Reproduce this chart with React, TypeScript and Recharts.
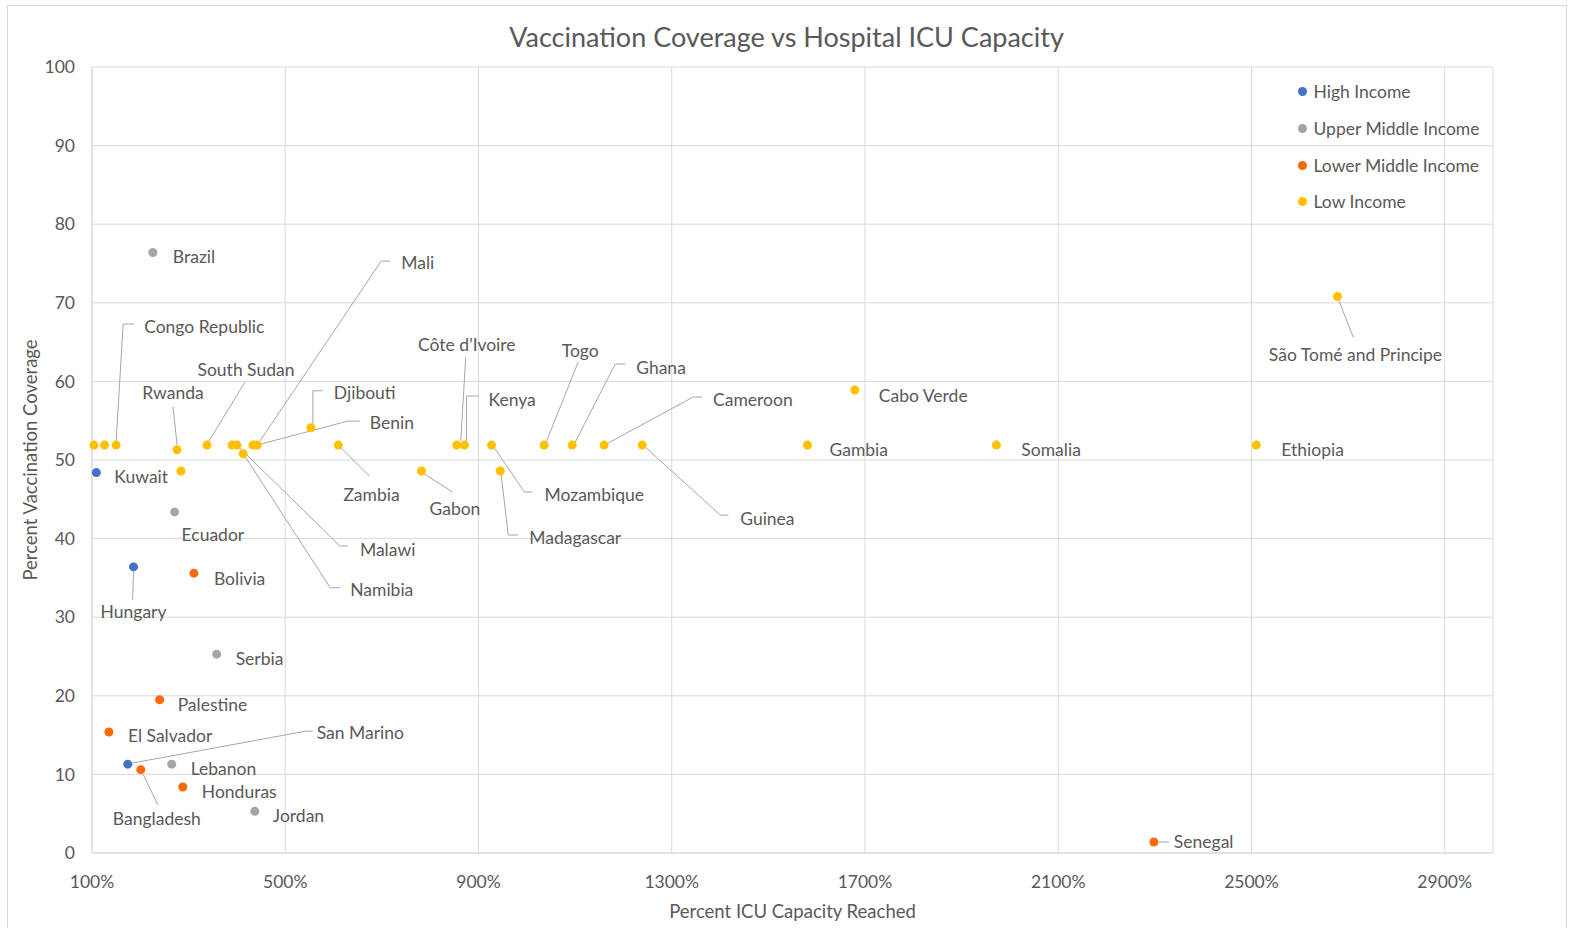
import React from "react";
import {
  ScatterChart,
  Scatter,
  XAxis,
  YAxis,
  CartesianGrid,
  Legend,
} from "recharts";

type Pt = { name: string; icu: number; vax: number };

const highIncome: Pt[] = [
  { name: "Kuwait", icu: 109, vax: 48.4 },
  { name: "Hungary", icu: 186, vax: 36.4 },
  { name: "San Marino", icu: 174, vax: 11.3 },
];

const upperMiddleIncome: Pt[] = [
  { name: "Brazil", icu: 226, vax: 76.4 },
  { name: "Ecuador", icu: 271, vax: 43.4 },
  { name: "Serbia", icu: 358, vax: 25.3 },
  { name: "Lebanon", icu: 265, vax: 11.3 },
  { name: "Jordan", icu: 437, vax: 5.3 },
];

const lowerMiddleIncome: Pt[] = [
  { name: "Bolivia", icu: 311, vax: 35.6 },
  { name: "Palestine", icu: 240, vax: 19.5 },
  { name: "El Salvador", icu: 135, vax: 15.4 },
  { name: "Bangladesh", icu: 201, vax: 10.6 },
  { name: "Honduras", icu: 288, vax: 8.4 },
  { name: "Senegal", icu: 2298, vax: 1.4 },
];

const lowIncome: Pt[] = [
  { name: "", icu: 104, vax: 51.9 },
  { name: "", icu: 126, vax: 51.9 },
  { name: "Congo Republic", icu: 150, vax: 51.9 },
  { name: "Rwanda", icu: 276, vax: 51.3 },
  { name: "", icu: 284, vax: 48.6 },
  { name: "South Sudan", icu: 338, vax: 51.9 },
  { name: "", icu: 390, vax: 51.9 },
  { name: "Malawi", icu: 400, vax: 51.9 },
  { name: "Namibia", icu: 413, vax: 50.8 },
  { name: "Benin", icu: 433, vax: 51.9 },
  { name: "Mali", icu: 442, vax: 51.9 },
  { name: "Djibouti", icu: 553, vax: 54.1 },
  { name: "Zambia", icu: 610, vax: 51.9 },
  { name: "Gabon", icu: 782, vax: 48.6 },
  { name: "Côte d’Ivoire", icu: 855, vax: 51.9 },
  { name: "Kenya", icu: 871, vax: 51.9 },
  { name: "Mozambique", icu: 927, vax: 51.9 },
  { name: "Madagascar", icu: 945, vax: 48.6 },
  { name: "Togo", icu: 1036, vax: 51.9 },
  { name: "Ghana", icu: 1094, vax: 51.9 },
  { name: "Cameroon", icu: 1160, vax: 51.9 },
  { name: "Guinea", icu: 1239, vax: 51.9 },
  { name: "Gambia", icu: 1581, vax: 51.9 },
  { name: "Cabo Verde", icu: 1679, vax: 58.9 },
  { name: "Somalia", icu: 1972, vax: 51.9 },
  { name: "Ethiopia", icu: 2510, vax: 51.9 },
  { name: "São Tomé and Principe", icu: 2678, vax: 70.8 },
];

const seriesOrder = [
  "High Income",
  "Upper Middle Income",
  "Lower Middle Income",
  "Low Income",
];

const xTicks = [100, 500, 900, 1300, 1700, 2100, 2500, 2900];
const yTicks = [0, 10, 20, 30, 40, 50, 60, 70, 80, 90, 100];

const COLORS = {
  high: "#4472C4",
  upper: "#A5A5A5",
  lower: "#FA6A0A",
  low: "#FFC000",
};

const TEXT = "#595959";
const GRID = "#D9D9D9";
const LEADER = "#A6A6A6";
const LABEL_SIZE = 17.5;

// data label placement, in pixels from the point (like Excel's dragged labels)
type Lay = { dx: number; dy: number; mid?: boolean; leader?: number[][] };
const labelLayout: Record<string, Lay> = {
  Kuwait: { dx: 18, dy: 4 },
  Hungary: { dx: 0, dy: 45, mid: true, leader: [[0, 5], [-1, 33]] },
  "San Marino": { dx: 189, dy: -32, leader: [[4, -1], [178, -33], [185, -33]] },
  Brazil: { dx: 20, dy: 4 },
  Ecuador: { dx: 7, dy: 23 },
  Serbia: { dx: 19, dy: 4 },
  Lebanon: { dx: 19, dy: 4 },
  Jordan: { dx: 18, dy: 4 },
  Bolivia: { dx: 20, dy: 5 },
  Palestine: { dx: 18, dy: 5 },
  "El Salvador": { dx: 19, dy: 4 },
  Bangladesh: { dx: 16, dy: 49, mid: true, leader: [[2, 4], [17, 35]] },
  Honduras: { dx: 19, dy: 5 },
  Senegal: { dx: 20, dy: 0, leader: [[5, 0], [15, 0]] },
  "Congo Republic": { dx: 28, dy: -119, leader: [[0, -4], [7, -121], [18, -121]] },
  Rwanda: { dx: -4, dy: -57, mid: true, leader: [[0, -5], [-4, -43]] },
  "South Sudan": { dx: 39, dy: -76, mid: true, leader: [[2, -4], [38, -63]] },
  Malawi: { dx: 123, dy: 104, leader: [[3, 3], [103, 101], [111, 101]] },
  Namibia: { dx: 107, dy: 136, leader: [[2, 3], [87, 134], [97, 134]] },
  Benin: { dx: 117, dy: -23, leader: [[4, 0], [95, -24], [107, -24]] },
  Mali: { dx: 144, dy: -183, leader: [[2, -3], [124, -184], [133, -184]] },
  Djibouti: { dx: 23, dy: -35, leader: [[2, -4], [2, -37], [12, -37]] },
  Zambia: { dx: 5, dy: 49, leader: [[3, 3], [31, 31]] },
  Gabon: { dx: 8, dy: 37, leader: [[3, 3], [31, 21]] },
  "Côte d’Ivoire": { dx: 10, dy: -101, mid: true, leader: [[4, -4], [9, -88]] },
  Kenya: { dx: 24, dy: -46, leader: [[2, -4], [2, -49], [14, -49]] },
  Mozambique: { dx: 53, dy: 49, leader: [[3, 3], [33, 47], [41, 47]] },
  Madagascar: { dx: 29, dy: 66, leader: [[1, 4], [8, 64], [18, 64]] },
  Togo: { dx: 36, dy: -95, mid: true, leader: [[2, -3], [34, -83]] },
  Ghana: { dx: 64, dy: -78, leader: [[3, -3], [43, -81], [53, -81]] },
  Cameroon: { dx: 109, dy: -46, leader: [[4, -2], [89, -48], [98, -48]] },
  Guinea: { dx: 98, dy: 73, leader: [[3, 2], [78, 70], [86, 70]] },
  Gambia: { dx: 22, dy: 4 },
  "Cabo Verde": { dx: 24, dy: 5 },
  Somalia: { dx: 25, dy: 4 },
  Ethiopia: { dx: 25, dy: 4 },
  "São Tomé and Principe": { dx: 18, dy: 58, mid: true, leader: [[1, 3], [16, 41]] },
};

const pointShape = (color: string) => (props: any) => {
  const { cx, cy, payload } = props;
  const name: string = payload?.name ?? "";
  const lay = name ? labelLayout[name] : undefined;
  return (
    <g>
      {lay?.leader && (
        <polyline
          points={lay.leader.map(([a, b]) => `${cx + a},${cy + b}`).join(" ")}
          fill="none"
          stroke={LEADER}
          strokeWidth={1}
        />
      )}
      <circle cx={cx} cy={cy} r={4.5} fill={color} />
      {lay && (
        <text
          x={cx + lay.dx}
          y={cy + lay.dy}
          textAnchor={lay.mid ? "middle" : "start"}
          dominantBaseline="central"
          fontSize={LABEL_SIZE}
          fill={TEXT}
        >
          {name}
        </text>
      )}
    </g>
  );
};

const renderLegend = (props: any) => {
  const items = [...(props.payload || [])].sort(
    (a: any, b: any) => seriesOrder.indexOf(a.value) - seriesOrder.indexOf(b.value)
  );
  return (
    <div style={{ fontFamily: "Lato, sans-serif" }}>
      {items.map((it: any) => (
        <div
          key={it.value}
          style={{
            height: 36.7,
            display: "flex",
            alignItems: "center",
            whiteSpace: "nowrap",
            fontSize: LABEL_SIZE,
            color: TEXT,
          }}
        >
          <svg width={9} height={9} style={{ marginRight: 7 }}>
            <circle cx={4.5} cy={4.5} r={4.5} fill={it.color} />
          </svg>
          {it.value}
        </div>
      ))}
    </div>
  );
};

export default function App() {
  return (
    <div
      style={{
        position: "fixed",
        left: 0,
        top: 0,
        width: 1573,
        height: 928,
        background: "#fff",
        fontFamily: "Lato, sans-serif",
      }}
    >
      <div
        style={{
          position: "absolute",
          left: 7,
          top: 5,
          width: 1558,
          height: 940,
          border: `1px solid ${GRID}`,
        }}
      />
      <div
        style={{
          position: "absolute",
          left: 0,
          top: 20,
          width: 1573,
          textAlign: "center",
          fontSize: 27,
          color: TEXT,
          lineHeight: "34px",
        }}
      >
        Vaccination Coverage vs Hospital ICU Capacity
      </div>
      <div style={{ position: "absolute", left: 0, top: 0 }}>
        <ScatterChart
          width={1573}
          height={928}
          margin={{ top: 67, right: 80, bottom: 5, left: 0 }}
        >
          <CartesianGrid stroke={GRID} />
          <XAxis
            type="number"
            dataKey="icu"
            domain={[100, 3000]}
            ticks={xTicks}
            tickFormatter={(v) => `${v}%`}
            tickLine={false}
            tickSize={0}
            tickMargin={23}
            axisLine={{ stroke: GRID }}
            tick={{ fill: TEXT, fontSize: LABEL_SIZE }}
            height={70}
            interval={0}
            label={{
              content: (p: any) => {
                const vb = p.viewBox;
                return (
                  <text
                    x={vb.x + vb.width / 2}
                    y={911}
                    textAnchor="middle"
                    dominantBaseline="central"
                    fontSize={18.5}
                    fill={TEXT}
                  >
                    Percent ICU Capacity Reached
                  </text>
                );
              },
            }}
          />
          <YAxis
            type="number"
            dataKey="vax"
            domain={[0, 100]}
            ticks={yTicks}
            tickLine={false}
            tickSize={0}
            tickMargin={17}
            axisLine={{ stroke: GRID }}
            tick={{ fill: TEXT, fontSize: LABEL_SIZE }}
            width={92}
            interval={0}
            label={{
              content: (p: any) => {
                const vb = p.viewBox;
                const cy = vb.y + vb.height / 2;
                return (
                  <text
                    x={30}
                    y={cy}
                    transform={`rotate(-90 30 ${cy})`}
                    textAnchor="middle"
                    dominantBaseline="central"
                    fontSize={18.5}
                    fill={TEXT}
                  >
                    Percent Vaccination Coverage
                  </text>
                );
              },
            }}
          />
          <Legend
            layout="vertical"
            align="center"
            verticalAlign="middle"
            content={renderLegend}
            wrapperStyle={{ left: 1297.5, top: 73.5, width: 230 }}
          />
          <Scatter
            name="High Income"
            data={highIncome}
            fill={COLORS.high}
            shape={pointShape(COLORS.high)}
            isAnimationActive={false}
          />
          <Scatter
            name="Upper Middle Income"
            data={upperMiddleIncome}
            fill={COLORS.upper}
            shape={pointShape(COLORS.upper)}
            isAnimationActive={false}
          />
          <Scatter
            name="Lower Middle Income"
            data={lowerMiddleIncome}
            fill={COLORS.lower}
            shape={pointShape(COLORS.lower)}
            isAnimationActive={false}
          />
          <Scatter
            name="Low Income"
            data={lowIncome}
            fill={COLORS.low}
            shape={pointShape(COLORS.low)}
            isAnimationActive={false}
          />
        </ScatterChart>
      </div>
    </div>
  );
}
